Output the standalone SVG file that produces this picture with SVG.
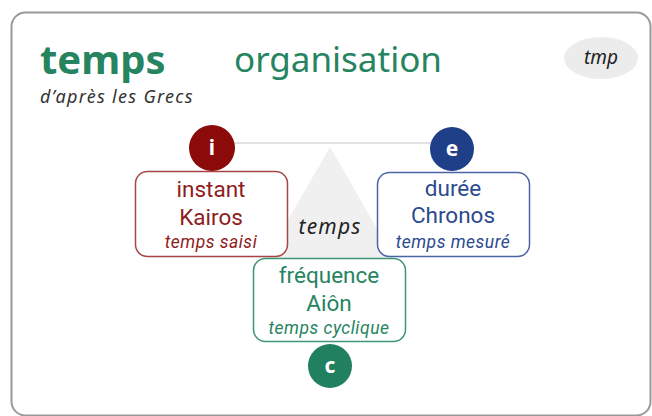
<svg xmlns="http://www.w3.org/2000/svg" width="652" height="416" viewBox="0 0 652 416">
<style>
text{font-family:"Noto Sans","Liberation Sans",sans-serif;text-anchor:middle}
.box{fill:#fff;stroke-width:1.5}
.t1{font-family:Roboto,"Noto Sans",sans-serif;font-size:22.5px}
.t3{font-family:Roboto,"Noto Sans",sans-serif;font-size:17.5px;font-style:italic;letter-spacing:0.5px}
.badge{font-size:21px;font-weight:bold;fill:#fff}
.red{fill:#8e1c1c}
.blue{fill:#2c4a8e}
.green{fill:#268460}
</style>
<rect x="11.5" y="12.5" width="639" height="403" rx="14" fill="#fff" stroke="#999" stroke-width="2"/>
<g id="header">
<text x="40" y="74" style="text-anchor:start;font-size:40px;font-weight:bold" class="green">temps</text>
<text x="338" y="72" style="font-size:35px" class="green">organisation</text>
<text x="40" y="103" style="text-anchor:start;font-size:18px;font-style:italic;letter-spacing:1.3px" fill="#333">d’après les Grecs</text>
</g>
<g id="tag">
<ellipse cx="601" cy="58" rx="37" ry="21" fill="#ececec"/>
<text x="601" y="64" style="font-size:19px;font-style:italic" fill="#222">tmp</text>
</g>
<g id="connectors">
<line x1="230" y1="143" x2="432" y2="143" stroke="#e2e2e2" stroke-width="2"/>
<polygon points="330,147 266,258 394,258" fill="#f0f0f0"/>
</g>
<g id="center">
<text x="330" y="234" style="font-size:21px;font-style:italic;letter-spacing:1.2px" fill="#222">temps</text>
</g>
<g id="kairos">
<rect class="box" x="135.5" y="171.5" width="152" height="85" rx="12" stroke="#a84444"/>
<text x="211" y="197" class="t1 red">instant</text>
<text x="211" y="225" class="t1 red">Kairos</text>
<text x="211" y="248" class="t3 red">temps saisi</text>
<circle cx="212" cy="148" r="23" fill="#8b0a0a"/>
<text x="212" y="155" class="badge">i</text>
</g>
<g id="chronos">
<rect class="box" x="377.5" y="172.5" width="152" height="84" rx="12" stroke="#4a64a4"/>
<text x="453" y="196" class="t1 blue">durée</text>
<text x="453" y="223" class="t1 blue">Chronos</text>
<text x="453" y="248" class="t3 blue">temps mesuré</text>
<circle cx="452" cy="149" r="22" fill="#1f3f88"/>
<text x="452" y="156" class="badge">e</text>
</g>
<g id="aion">
<rect class="box" x="253.5" y="258.5" width="152" height="83" rx="12" stroke="#3d9673"/>
<text x="329" y="283" class="t1 green">fréquence</text>
<text x="329" y="311" class="t1 green">Aiôn</text>
<text x="329" y="333.5" class="t3 green">temps cyclique</text>
<circle cx="330" cy="366" r="22" fill="#218060"/>
<text x="330" y="373" class="badge">c</text>
</g>
</svg>
